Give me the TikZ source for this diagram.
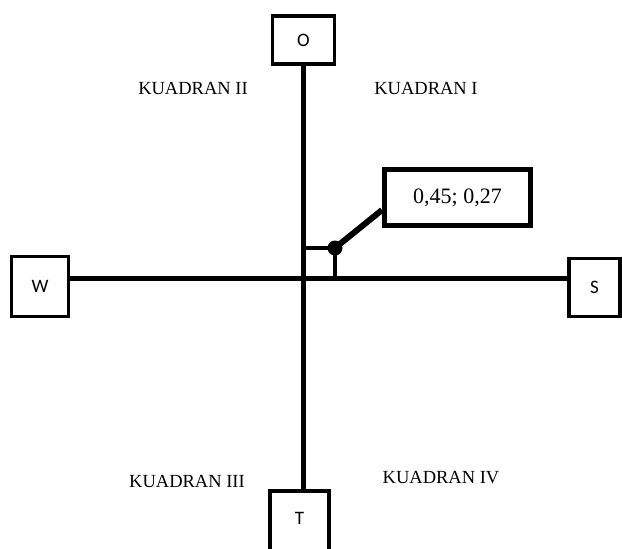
\documentclass[tikz,border=0pt]{standalone}
\usepackage{fontspec}
\setmainfont{Liberation Serif}
\newfontfamily\boxfont{Carlito}
\begin{document}
\begin{tikzpicture}[x=1pt,y=-1pt,
  dirbox/.style={draw,line width=3.5pt,fill=white,inner sep=0pt,font=\boxfont\fontsize{19}{19}\selectfont},
  quad/.style={font=\fontsize{18.5}{18.5}\selectfont,inner sep=0pt},
  axis/.style={line width=5pt},
  thin axis/.style={line width=4pt}]
\useasboundingbox (0,0) rectangle (622,549);
\clip (0,0) rectangle (622,549);
\fill[white] (0,0) rectangle (622,549);
% axes
\coordinate (c) at (303.5,278);
\coordinate (xend) at (335,278);
\coordinate (yend) at (303.5,248);
\coordinate (p) at (335,248);
\node[dirbox,minimum width=62pt,minimum height=48pt] (O) at (303.5,40) {O};
\node[dirbox,minimum width=57pt,minimum height=60pt] (W) at (40,286.5) {W};
\node[dirbox,minimum width=51pt,minimum height=58pt] (S) at (594.5,287.5) {S};
\node[dirbox,minimum width=59pt,minimum height=70pt] (T) at (299.5,526) {};
\node[font=\boxfont\fontsize{19}{19}\selectfont] (tl) at (299.5,518) {T};
\draw[axis] (O.south -| c) -- (T.north -| c);
\draw[axis] (W.east |- c) -- (S.west |- c);
\draw[thin axis] (yend) -- (p) -- (xend);
\node[draw,line width=5pt,fill=white,minimum width=146pt,minimum height=56pt,inner sep=0pt,font=\fontsize{22}{22}\selectfont] (val) at (457.5,197.5) {0,45; 0,27};
\coordinate (vin) at (382,210);
\draw[line width=6pt] (p) -- (vin);
\fill (p) circle (7.5pt);
\node[quad] (q2) at (193,88) {KUADRAN II};
\node[quad] (q1) at (426,88) {KUADRAN I};
\node[quad] (q3) at (187,481) {KUADRAN III};
\node[quad] (q4) at (441,478) {KUADRAN IV};
\end{tikzpicture}
\end{document}
